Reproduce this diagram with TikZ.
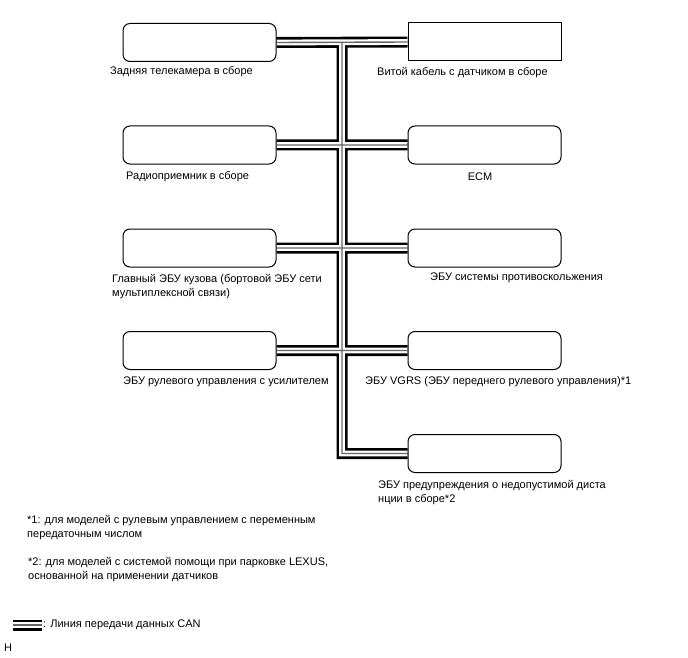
\documentclass[tikz,border=0pt]{standalone}
\usepackage{fontspec}
\setmainfont{Liberation Sans}
\usetikzlibrary{backgrounds}
\tikzset{
    % ECU box
    ecu/.style={
        draw, fill=white, line width=1pt, rounded corners=7pt,
        minimum width=153pt, minimum height=38pt, inner sep=0pt
    },
    squareecu/.style={ecu, sharp corners},
    % text under a box
    lbl/.style={anchor=west, inner sep=0pt, align=left,
        font=\fontsize{11}{14}\selectfont},
    % CAN line: black, white, thin grey centre
    canbus/.style={draw=white, line width=5.8pt, line join=miter,
        preaction={draw=black, line width=11pt},
        postaction={draw=black!60, line width=1.4pt}},
}

\begin{document}
\begin{tikzpicture}[x=1pt,y=-1pt]
      \useasboundingbox (0,0) rectangle (688,658);
      % left column
      \node[ecu] (cam)   at (199.5,42.5)  {};
      \node[ecu] (radio) at (199.5,145)   {};
      \node[ecu] (body)  at (199.5,248)   {};
      \node[ecu] (eps)   at (199.5,350.5) {};
      % right column
      \node[squareecu] (twist) at (484.5,42) {};
      \node[ecu] (ecm)   at (484.5,145)   {};
      \node[ecu] (abs)   at (484.5,248)   {};
      \node[ecu] (vgrs)  at (484.5,350.5) {};
      \node[ecu] (prx)   at (484.5,453.5) {};
      % bus trunk
      \coordinate (top)  at (342,42.5);
      \coordinate (bend) at (342,453.5);
      \begin{scope}[on background layer]
        \draw[canbus] (cam.east) -- (twist.west)
                      (radio.east) -- (ecm.west)
                      (body.east) -- (abs.west)
                      (eps.east) -- (vgrs.west)
                      (top) -- (bend) -- (prx.west);
      \end{scope}
      % labels
      \node[lbl] (camtxt)   at (110,72)  {Задняя телекамера в сборе};
      \node[lbl] (twisttxt) at (377,73)  {Витой кабель с датчиком в сборе};
      \node[lbl] (radiotxt) at (126,177) {Радиоприемник в сборе};
      \node[lbl,anchor=center] (ecmtxt) at (480,177) {ECM};
      \node[lbl] (bodytxt)  at (112,286.5) {Главный ЭБУ кузова (бортовой ЭБУ сети\\мультиплексной связи)};
      \node[lbl] (abstxt)   at (430,278) {ЭБУ системы противоскольжения};
      \node[lbl] (epstxt)   at (123,382) {ЭБУ рулевого управления с усилителем};
      \node[lbl] (vgrstxt)  at (365,382) {ЭБУ VGRS (ЭБУ переднего рулевого управления)*1};
      \node[lbl] (prxtxt)   at (378,493) {ЭБУ предупреждения о недопустимой диста\\нции в сборе*2};
      % footnotes
      \node[lbl] (fn1) at (27,527.5) {*1: для моделей с рулевым управлением с переменным\\передаточным числом};
      \node[lbl] (fn2) at (28,569.5) {*2: для моделей с системой помощи при парковке LEXUS,\\основанной на применении датчиков};
      % legend
      \coordinate (lgA) at (13,625);
      \coordinate (lgB) at (42,625);
      \draw[canbus] (lgA) -- (lgB);
      \node[lbl] (lgtxt) at (43,625) {: Линия передачи данных CAN};
      \node[lbl] (mark) at (4,648) {H};
\end{tikzpicture}
\end{document}
